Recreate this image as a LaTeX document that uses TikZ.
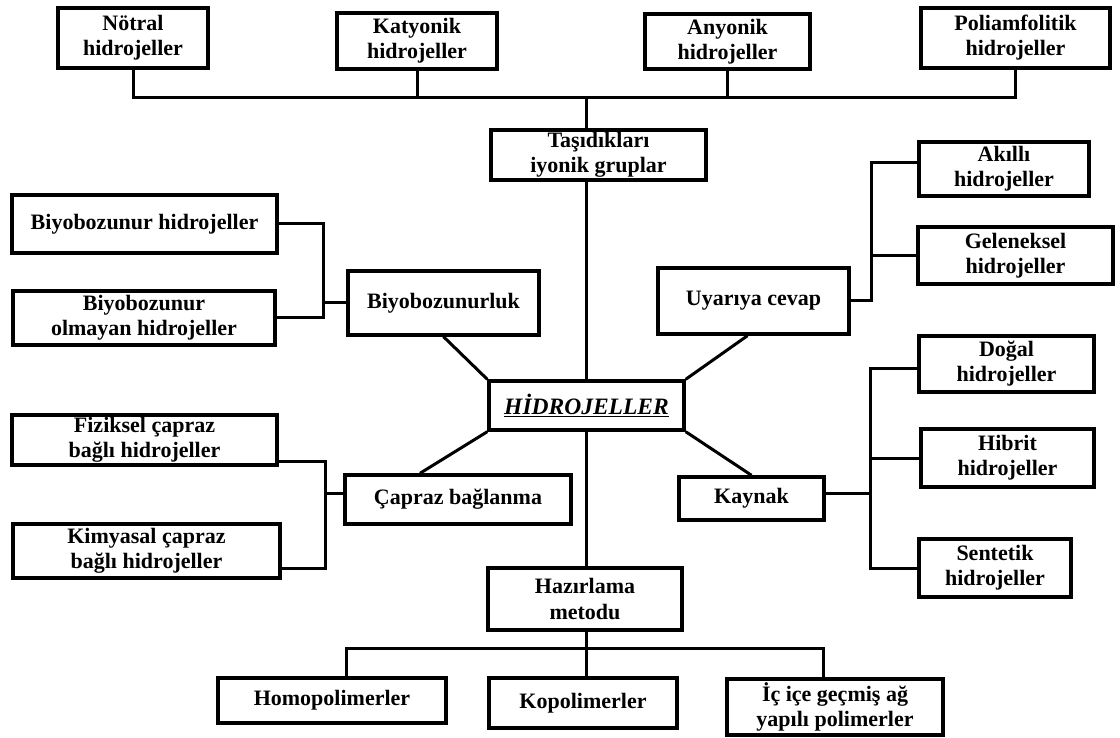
\documentclass[tikz,border=0pt]{standalone}
\usepackage{fontspec}
\setmainfont{Liberation Serif}
\begin{document}
\begin{tikzpicture}[x=1pt,y=-1pt,
  box/.style={draw, line width=3.4pt, fill=white, inner sep=0pt, align=center,
    font=\fontsize{22}{25}\selectfont\bfseries},
  link/.style={line width=3pt, line join=miter}]
% canvas
\path[use as bounding box, fill=white] (0,0) rectangle (1120,738);

% ionic groups
\node[box, minimum width=150, minimum height=60] (notral) at (133,38) {Nötral\\hidrojeller};
\node[box, minimum width=160, minimum height=56] (katyonik) at (417,41) {Katyonik\\hidrojeller};
\node[box, minimum width=165, minimum height=55] (anyonik) at (727.5,41.5) {Anyonik\\hidrojeller};
\node[box, minimum width=189, minimum height=60] (poli) at (1015.5,38) {Poliamfolitik\\hidrojeller};
\node[box, minimum width=215, minimum height=50] (tasidiklari) at (598.5,155) {Taşıdıkları\\iyonik gruplar};

% stimulus response
\node[box, minimum width=170, minimum height=54] (akilli) at (1004,169) {Akıllı\\hidrojeller};
\node[box, minimum width=195, minimum height=57] (geleneksel) at (1015.5,255.5) {Geleneksel\\hidrojeller};
\node[box, minimum width=191, minimum height=66] (uyariya) at (753.5,301) {Uyarıya cevap};

% biodegradability
\node[box, minimum width=265, minimum height=58] (biyo1) at (144.5,224) {Biyobozunur hidrojeller};
\node[box, minimum width=262, minimum height=54] (biyo2) at (144,318) {Biyobozunur\\olmayan hidrojeller};
\node[box, minimum width=191, minimum height=64] (biyozl) at (443.5,303) {Biyobozunurluk};

% centre
\node[box, minimum width=195, minimum height=49,
  font=\fontsize{23.5}{26}\selectfont\bfseries\itshape] (hidro) at (586.5,405.5) {\underline{HİDROJELLER}};

% crosslinking
\node[box, minimum width=265, minimum height=50] (fiziksel) at (144.5,440) {Fiziksel çapraz\\bağlı hidrojeller};
\node[box, minimum width=267, minimum height=54] (kimyasal) at (146.5,551) {Kimyasal çapraz\\bağlı hidrojeller};
\node[box, minimum width=226, minimum height=49] (capraz) at (458,499.5) {Çapraz bağlanma};

% source
\node[box, minimum width=145, minimum height=43] (kaynak) at (751.5,498.5) {Kaynak};
\node[box, minimum width=175, minimum height=56] (dogal) at (1006.5,364) {Doğal\\hidrojeller};
\node[box, minimum width=173, minimum height=58] (hibrit) at (1007.5,458) {Hibrit\\hidrojeller};
\node[box, minimum width=152, minimum height=58] (sentetik) at (995,568) {Sentetik\\hidrojeller};

% preparation method
\node[box, minimum width=194, minimum height=62] (hazirlama) at (585,599) {Hazırlama\\metodu};
\node[box, minimum width=228, minimum height=45] (homo) at (332,700.5) {Homopolimerler};
\node[box, minimum width=188, minimum height=50] (kopo) at (583,703) {Kopolimerler};
\node[box, minimum width=216, minimum height=56] (icice) at (835,707) {İç içe geçmiş ağ\\yapılı polimerler};

% guide coordinates
\coordinate (bt) at (0,98);
\coordinate (axis) at (586,0);
\coordinate (bbl) at (346,648);
\coordinate (bbr) at (823,648);
\coordinate (rt) at (871,0);
\coordinate (lt) at (323,0);
\coordinate (lb) at (325,0);
\coordinate (rb) at (870,0);
% attachment points off the box centres
\coordinate (akp) at ([yshift=6pt]akilli.west);
\coordinate (fzp) at ([yshift=-21pt]fiziksel.east);
\coordinate (kmp) at ([yshift=-17pt]kimyasal.east);
\coordinate (cpp) at ([yshift=6.5pt]capraz.west);
\coordinate (dgp) at ([yshift=-4pt]dogal.west);
\coordinate (kyp) at ([yshift=5.5pt]kaynak.east);
\coordinate (uyp) at ([xshift=-6pt]uyariya.south);
\coordinate (cpt) at ([xshift=-38pt]capraz.north);

% top bus
\draw[link] (notral.south) -- (notral.south |- bt) -- (poli.south |- bt) -- (poli.south);
\draw[link] (katyonik.south) -- (katyonik.south |- bt);
\draw[link] (anyonik.south) -- (anyonik.south |- bt);
\draw[link] (axis |- tasidiklari.north) -- (axis |- bt);
% central axis
\draw[link] (axis |- tasidiklari.south) -- (axis |- hidro.north);
\draw[link] (axis |- hidro.south) -- (axis |- hazirlama.north);
% bottom bus
\draw[link] (bbl |- homo.north) -- (bbl) -- (bbr) -- (bbr |- icice.north);
\draw[link] (axis |- hazirlama.south) -- (axis |- kopo.north);
% stimulus bracket
\draw[link] (akp) -| (rt |- uyariya.east) -- (uyariya.east);
\draw[link] (geleneksel.west) -- (rt |- geleneksel.west);
% biodegradability bracket
\draw[link] (biyo1.east) -| (lt |- biyo2.east) -- (biyo2.east);
\draw[link] (lt |- biyozl.west) -- (biyozl.west);
% crosslinking bracket
\draw[link] (fzp) -| (lb |- kmp) -- (kmp);
\draw[link] (lb |- cpp) -- (cpp);
% source bracket
\draw[link] (dgp) -| (rb |- sentetik.west) -- (sentetik.west);
\draw[link] (hibrit.west) -- (rb |- hibrit.west);
\draw[link] (rb |- kyp) -- (kyp);
% diagonals to the centre
\draw[link] (biyozl.south) -- (hidro.north west);
\draw[link] (uyp) -- (hidro.north east);
\draw[link] (cpt) -- (hidro.south west);
\draw[link] (kaynak.north) -- (hidro.south east);
\end{tikzpicture}
\end{document}
